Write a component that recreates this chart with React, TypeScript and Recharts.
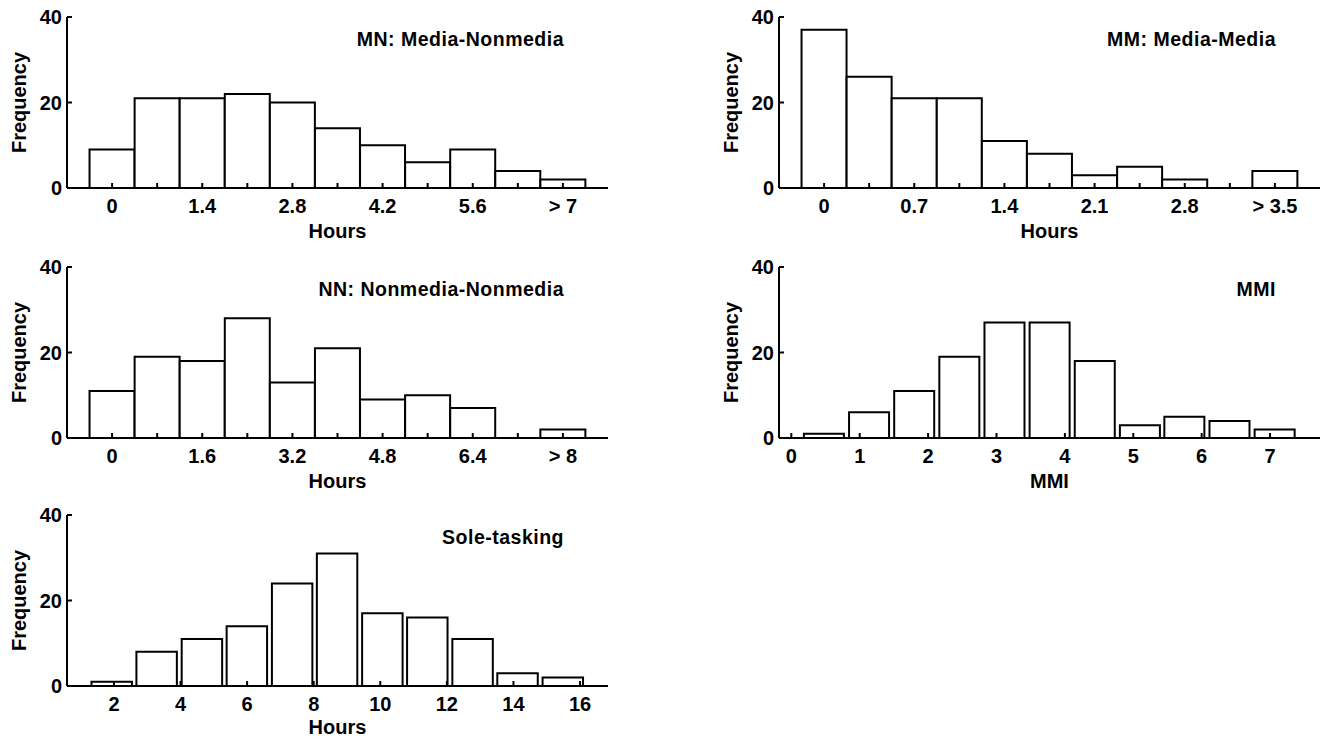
import React from 'react';
import { BarChart, Bar, XAxis, YAxis } from 'recharts';

// bin centres and counts
const mnBins = [0, 0.7, 1.4, 2.1, 2.8, 3.5, 4.2, 4.9, 5.6, 6.3, 7.0];
const mnCounts = [9, 21, 21, 22, 20, 14, 10, 6, 9, 4, 2];
const mnTickLabels = ['0', '', '1.4', '', '2.8', '', '4.2', '', '5.6', '', '> 7'];

const mmBins = [0, 0.35, 0.7, 1.05, 1.4, 1.75, 2.1, 2.45, 2.8, 3.15, 3.5];
const mmCounts = [37, 26, 21, 21, 11, 8, 3, 5, 2, 0, 4];
const mmTickLabels = ['0', '', '0.7', '', '1.4', '', '2.1', '', '2.8', '', '> 3.5'];

const nnBins = [0, 0.8, 1.6, 2.4, 3.2, 4.0, 4.8, 5.6, 6.4, 7.2, 8.0];
const nnCounts = [11, 19, 18, 28, 13, 21, 9, 10, 7, 0, 2];
const nnTickLabels = ['0', '', '1.6', '', '3.2', '', '4.8', '', '6.4', '', '> 8'];

const mmiBins = [0.48, 1.14, 1.8, 2.46, 3.12, 3.78, 4.44, 5.1, 5.75, 6.41, 7.07];
const mmiCounts = [1, 6, 11, 19, 27, 27, 18, 3, 5, 4, 2];
const mmiTicks = [0, 1, 2, 3, 4, 5, 6, 7];

const soleBins = [1.94, 3.29, 4.65, 6.0, 7.36, 8.71, 10.07, 11.42, 12.78, 14.13, 15.49];
const soleCounts = [1, 8, 11, 14, 24, 31, 17, 16, 11, 3, 2];
const soleTicks = [2, 4, 6, 8, 10, 12, 14, 16];

const freqTicks = [0, 20, 40];

const CHART_W = 612;
const MARGIN = { top: 10, right: 4, bottom: 6, left: 0 };
const Y_W = 67;
const X_H = 52;
const PLOT_H = 171;
const CHART_H = MARGIN.top + PLOT_H + X_H + MARGIN.bottom;

const lineStyle = { stroke: '#000', strokeWidth: 2 };
const textStyle = { fill: '#000', fontSize: 20, fontWeight: 'bold' as const };

interface PanelProps {
  bins: number[];
  counts: number[];
  ticks?: number[];
  tickLabels?: string[];
  title: string;
  xLabel: string;
  left: number;
  top: number;
  labelOffset?: number;
}

const Panel: React.FC<PanelProps> = ({ bins, counts, ticks, tickLabels, title, xLabel, left, top, labelOffset = 2 }) => {
  const data = bins.map((x, i) => ({ x, count: counts[i] }));
  const w = bins[1] - bins[0];
  const domain = [bins[0] - w, bins[bins.length - 1] + w];
  const plotRight = CHART_W - MARGIN.right;

  return (
    <div style={{ position: 'absolute', left, top, width: CHART_W, height: CHART_H }}>
      <BarChart width={CHART_W} height={CHART_H} data={data} margin={MARGIN}>
        <XAxis
          dataKey="x"
          type="number"
          domain={domain}
          allowDataOverflow
          ticks={ticks || bins}
          interval={0}
          tickFormatter={(v: number, i: number) => (tickLabels ? tickLabels[i] : String(v))}
          height={X_H}
          tickSize={-5}
          tickMargin={16}
          axisLine={lineStyle}
          tickLine={lineStyle}
          tick={textStyle}
          label={{ value: xLabel, position: 'insideBottom', offset: labelOffset, style: textStyle }}
        />
        <YAxis
          type="number"
          domain={[0, 40]}
          ticks={freqTicks}
          interval={0}
          width={Y_W}
          tickSize={-5}
          tickMargin={10}
          axisLine={lineStyle}
          tickLine={lineStyle}
          tick={textStyle}
          label={{
            value: 'Frequency',
            angle: -90,
            position: 'insideLeft',
            offset: 19,
            style: { ...textStyle, textAnchor: 'middle' },
          }}
        />
        <Bar
          dataKey="count"
          barSize={45}
          fill="#fff"
          stroke="#000"
          strokeWidth={2}
          isAnimationActive={false}
        />
        <text
          x={plotRight - 44}
          y={MARGIN.top + 29}
          textAnchor="end"
          fontSize={19.5}
          fontWeight="bold"
          fill="#000"
          letterSpacing={0.5}
        >
          {title}
        </text>
      </BarChart>
    </div>
  );
};

const App: React.FC = () => (
  <div
    style={{
      position: 'absolute',
      left: 0,
      top: 0,
      width: 1321,
      height: 739,
      overflow: 'hidden',
      background: '#fff',
      fontFamily: '"Liberation Sans", Arial, sans-serif',
    }}
  >
    <Panel bins={mnBins} counts={mnCounts} tickLabels={mnTickLabels} title="MN: Media-Nonmedia" xLabel="Hours" left={0} top={7} />
    <Panel bins={mmBins} counts={mmCounts} tickLabels={mmTickLabels} title="MM: Media-Media" xLabel="Hours" left={712} top={7} />
    <Panel bins={nnBins} counts={nnCounts} tickLabels={nnTickLabels} title="NN: Nonmedia-Nonmedia" xLabel="Hours" left={0} top={257} />
    <Panel bins={mmiBins} counts={mmiCounts} ticks={mmiTicks} title="MMI" xLabel="MMI" left={712} top={257} />
    <Panel bins={soleBins} counts={soleCounts} ticks={soleTicks} title="Sole-tasking" xLabel="Hours" left={0} top={505} labelOffset={4} />
  </div>
);

export default App;
